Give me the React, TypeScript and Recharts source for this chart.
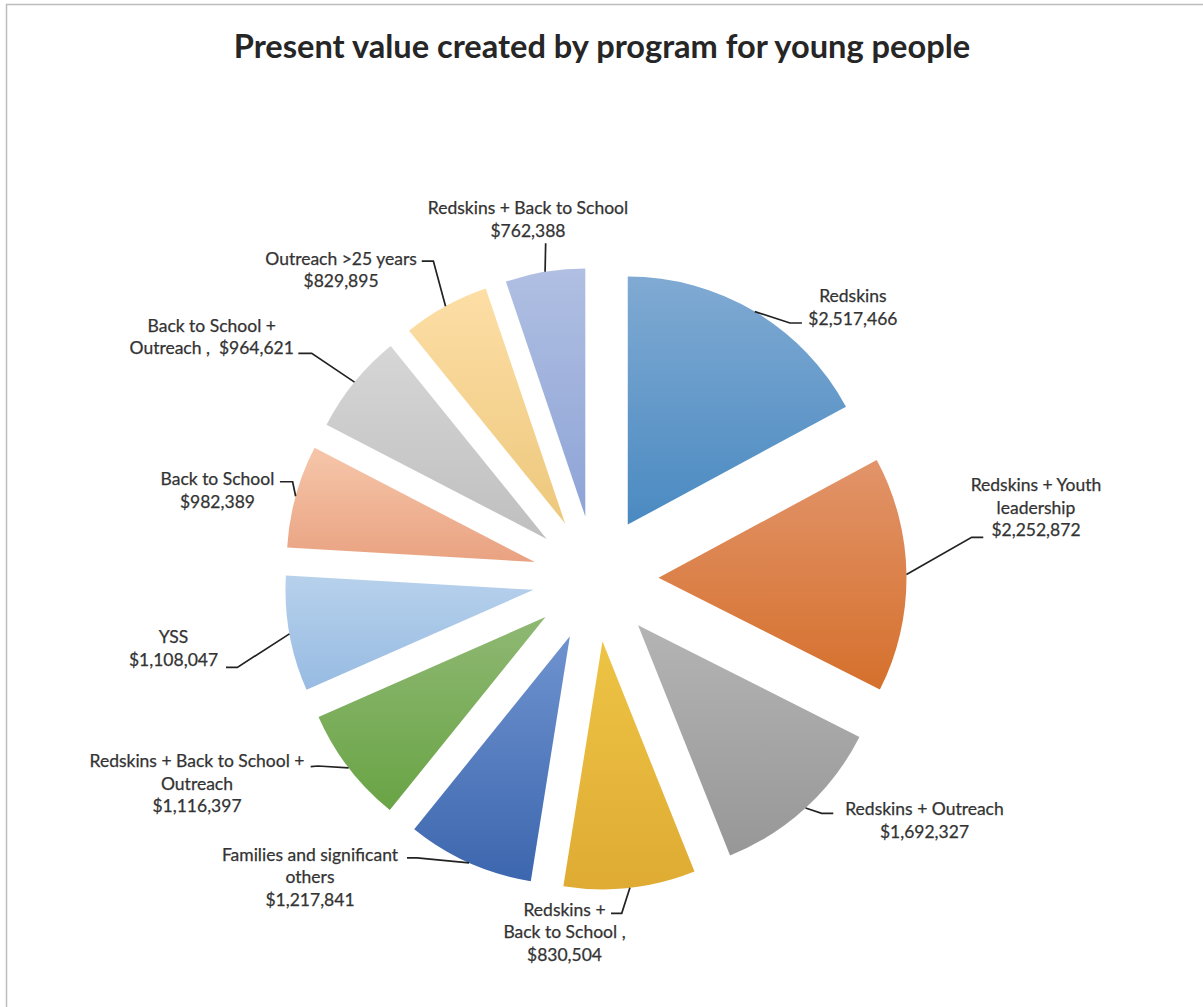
import React from 'react';
import { PieChart, Pie, Sector } from 'recharts';

// ---------- data ----------
const categories = [
  'Redskins',
  'Redskins + Youth leadership',
  'Redskins + Outreach',
  'Redskins + Back to School ,',
  'Families and significant others',
  'Redskins + Back to School + Outreach',
  'YSS',
  'Back to School',
  'Back to School + Outreach',
  'Outreach >25 years',
  'Redskins + Back to School',
];

// slice sizes as drawn in the reference (the 4th slice is drawn ~31°, although its label reads $830,504)
const sliceValues = [2517466, 2252872, 1692327, 1260000, 1217841, 1116397, 1108047, 982389, 964621, 829895, 762388];

// label text exactly as printed on the chart
const labelLines: string[][] = [
  ['Redskins', '$2,517,466'],
  ['Redskins + Youth', 'leadership', '$2,252,872'],
  ['Redskins + Outreach', '$1,692,327'],
  ['Redskins +', 'Back to School ,', '$830,504'],
  ['Families and significant', 'others', '$1,217,841'],
  ['Redskins + Back to School +', 'Outreach', '$1,116,397'],
  ['YSS', '$1,108,047'],
  ['Back to School', '$982,389'],
  ['Back to School +', 'Outreach ,  $964,621'],
  ['Outreach >25 years', '$829,895'],
  ['Redskins + Back to School', '$762,388'],
];

const TITLE = 'Present value created by program for young people';

// ---------- styles / layout ----------
const gradients: [string, string][] = [
  ['#80AAD3', '#4A8AC1'],
  ['#E2946A', '#D5702C'],
  ['#B4B4B4', '#979797'],
  ['#EDC445', '#DFAB33'],
  ['#6F93CF', '#3C66AE'],
  ['#8FB873', '#69A445'],
  ['#B7D1EC', '#97BBE2'],
  ['#F6C6AA', '#E9A281'],
  ['#D6D6D6', '#BFBFBF'],
  ['#FDDEA6', '#EDC87C'],
  ['#B0BFE2', '#8EA4D7'],
];

// leader elbow (e), stub end (s) and text centre/first baseline (t), relative to slice arc midpoint
const labelLayout = [
  { e: [35.1, 11.4], s: [47.1, 11.4], t: [98.1, -9.6] },
  { e: [65.2, -37.1], s: [76.8, -37.1], t: [129.5, -83.4] },
  { e: [16.1, 5.3], s: [27.7, 5.3], t: [118.9, 7] },
  { e: [-8.2, 25.5], s: [-18.9, 25.5], t: [-65.4, 28.2] },
  { e: [-52.1, -4.9], s: [-62.1, -4.9], t: [-159.1, -1.9] },
  { e: [-30.6, -1.8], s: [-37.9, -1.1], t: [-151.6, -0.5] },
  { e: [-52.1, 33.5], s: [-63.4, 33.5], t: [-115.9, 9.5] },
  { e: [-3, -14.5], s: [-15.7, -14.5], t: [-78.2, -11.2] },
  { e: [-42.8, -28.8], s: [-56.2, -28.8], t: [-142.8, -50.4] },
  { e: [-12.2, -45.2], s: [-23.8, -45.2], t: [-104.5, -41.7] },
  { e: [0.6, -28.5], s: [0.6, -28.5], t: [-17.1, -57.8] },
];

const W = 1203;
const H = 1007;
const EXPLODE = 63;
const LINE_H = 22.5;
const FONT = 'Lato, "Open Sans", sans-serif';
const RAD = Math.PI / 180;

const data = categories.map((name, i) => ({ name, value: sliceValues[i] }));

function renderSlice(props: any) {
  const { cx, cy, outerRadius, startAngle, endAngle, midAngle, index } = props;
  const ux = Math.cos(-midAngle * RAD);
  const uy = Math.sin(-midAngle * RAD);
  const ox = cx + EXPLODE * ux;
  const oy = cy + EXPLODE * uy;
  const px = ox + outerRadius * ux;
  const py = oy + outerRadius * uy;
  const L = labelLayout[index];
  const [c1, c2] = gradients[index];
  const gid = `slice-grad-${index}`;
  const pts = [
    [px, py],
    [px + L.e[0], py + L.e[1]],
    [px + L.s[0], py + L.s[1]],
  ]
    .map((p) => p.join(','))
    .join(' ');
  const tx = px + L.t[0];
  const ty = py + L.t[1];
  return (
    <g key={`slice-${index}`}>
      <defs>
        <linearGradient id={gid} x1="0" y1="0" x2="0" y2="1">
          <stop offset="0" stopColor={c1} />
          <stop offset="1" stopColor={c2} />
        </linearGradient>
      </defs>
      <Sector
        cx={ox}
        cy={oy}
        innerRadius={0}
        outerRadius={outerRadius}
        startAngle={startAngle}
        endAngle={endAngle}
        fill={`url(#${gid})`}
        stroke="none"
      />
      <polyline points={pts} fill="none" stroke="#222" strokeWidth={1.7} />
      <text
        textAnchor="middle"
        fontFamily={FONT}
        fontSize={17.5}
        fill="#333333"
        stroke="#333333"
        strokeWidth={0.25}
        style={{ whiteSpace: 'pre' }}
      >
        {labelLines[index].map((ln, i) => (
          <tspan key={i} x={tx} y={ty + i * LINE_H}>
            {ln}
          </tspan>
        ))}
      </text>
    </g>
  );
}

export default function App() {
  return (
    <div style={{ position: 'absolute', left: 0, top: 0, width: W, height: H, background: '#fff', overflow: 'hidden' }}>
      <svg width={W} height={H} style={{ position: 'absolute', left: 0, top: 0 }}>
        <rect x={6.5} y={4.5} width={W + 100} height={H + 100} fill="none" stroke="#BDBDBD" strokeWidth={1.5} />
        <text x={602} y={58} textAnchor="middle" fontFamily={FONT} fontWeight={700} fontSize={32.6} fill="#262626">
          {TITLE}
        </text>
      </svg>
      <div style={{ position: 'absolute', left: 0, top: 0 }}>
        <PieChart width={W} height={H} margin={{ top: 0, right: 0, bottom: 0, left: 0 }}>
          <Pie
            data={data}
            dataKey="value"
            nameKey="name"
            cx={595.5}
            cy={578.7}
            innerRadius={0}
            outerRadius={248}
            startAngle={90}
            endAngle={-270}
            fill="none"
            stroke="none"
            label={renderSlice}
            labelLine={false}
            isAnimationActive={false}
          />
        </PieChart>
      </div>
    </div>
  );
}
